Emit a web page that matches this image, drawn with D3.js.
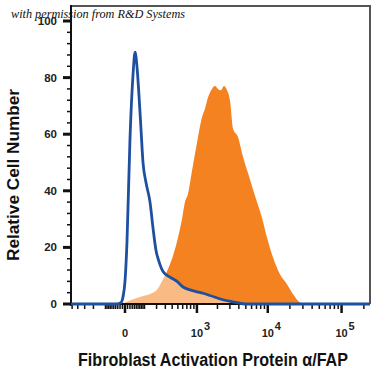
<!DOCTYPE html>
<html>
<head>
<meta charset="utf-8">
<script src="https://cdn.jsdelivr.net/npm/d3@7"></script>
<style>
    body { margin: 0; background: #fff; }
    svg { display: block; }
</style>
</head>
<body>
<svg id="chart" width="375" height="375"></svg>
<script>
/* flow histogram: FAP stained (orange) vs isotype (blue) */

// fluorescence intensity (biexponential axis) and relative cell number
const stainX = [-20, 12, 71, 141, 204, 259, 322, 397, 483, 585, 653, 729, 841, 1003, 1191, 1319, 1460, 1669,
    1843, 2035, 2245, 2477, 2731, 3008, 3314, 3890, 4566, 5705, 7116, 8330, 9750, 11770, 14660, 18250, 22010, 27380, 32000];
const stainY = [0, 1, 2.5, 3.5, 5, 8, 11.5, 16, 22, 30, 36, 39, 47, 57, 66, 69, 73, 76,
    77, 76, 75.5, 77, 75.5, 72, 62, 59, 52, 44, 36, 30.5, 23.5, 16.5, 10.5, 7, 3.5, 0.5, 0];

const isoX = [-522, -34, -16, -7.7, 0, 7.7, 20, 34, 44, 54, 65, 77, 90, 110, 141, 166, 194, 225, 271, 365,
    483, 607, 783, 1003, 1232, 1561, 2398, 3768, 4866, 242000];
const isoY = [0, 0, 0.5, 2.5, 8, 22, 58, 81, 89, 84, 74, 62, 50, 43, 36, 27, 19, 15, 11.5, 9.5,
    8, 6, 5, 4.3, 3.8, 3, 1.5, 0.5, 0, 0];

const xMajor = [0, 1e3, 1e4, 1e5];
const xMajorExp = ["", "3", "4", "5"];
const yMajor = [0, 20, 40, 60, 80, 100];

const box = {left: 71, top: 6, right: 370, bottom: 304};
const font = "Liberation Sans, Arial, sans-serif";

const svg = d3.select("#chart");

const x = d3.scaleSymlog()
    .constant(120)
    .domain([-522, 242000])
    .range([box.left, box.right]);

const y = d3.scaleLinear()
    .domain([0, 100])
    .range([box.bottom, 21]);

// minor ticks on the x axis
let xMinor = [];
[10, 100, 1000, 10000, 100000].forEach(dec => {
    for (let m = 1; m <= 9; m++) {
        const v = m * dec;
        if (xMajor.indexOf(v) < 0) {
            if (v <= 242000) xMinor.push(v);
            if (-v >= -522) xMinor.push(-v);
        }
    }
});
const yMinor = d3.range(0, 101, 4).filter(v => v % 20 !== 0);

const stain = stainX.map((v, i) => [v, stainY[i]]);
const iso = isoX.map((v, i) => [v, isoY[i]]);

const area = d3.area()
    .x(d => x(d[0]))
    .y0(y(0))
    .y1(d => y(d[1]))
    .curve(d3.curveMonotoneX);

const line = d3.line()
    .x(d => x(d[0]))
    .y(d => y(d[1]))
    .curve(d3.curveMonotoneX);

svg.append("path")
    .datum(stain)
    .attr("d", area)
    .attr("fill", "#f58220");

// isotype area lightens the orange below it
svg.append("path")
    .datum(iso)
    .attr("d", area)
    .attr("fill", "#fff")
    .attr("fill-opacity", 0.45);

// frame
svg.append("path")
    .attr("d", `M${box.left},${box.top}H${box.right}V${box.bottom}`)
    .attr("fill", "none")
    .attr("stroke", "#555")
    .attr("stroke-width", 2);

// y axis
const gy = svg.append("g");
gy.append("line")
    .attr("x1", box.left).attr("x2", box.left)
    .attr("y1", box.top - 1).attr("y2", box.bottom + 2)
    .attr("stroke", "#111").attr("stroke-width", 2);
gy.selectAll(".ymin").data(yMinor).join("line")
    .attr("x1", box.left - 4).attr("x2", box.left)
    .attr("y1", d => y(d)).attr("y2", d => y(d))
    .attr("stroke", "#111").attr("stroke-width", 1.5);
gy.selectAll(".ymaj").data(yMajor).join("line")
    .attr("x1", box.left - 8).attr("x2", box.left)
    .attr("y1", d => y(d)).attr("y2", d => y(d))
    .attr("stroke", "#111").attr("stroke-width", 3);
gy.selectAll("text").data(yMajor).join("text")
    .attr("x", 57)
    .attr("y", d => y(d) + 4)
    .attr("text-anchor", "end")
    .attr("font-family", font)
    .attr("font-weight", "bold")
    .attr("font-size", 11.5)
    .attr("fill", "#222")
    .text(d => d);

// x axis
const gx = svg.append("g");
gx.append("line")
    .attr("x1", box.left).attr("x2", box.right)
    .attr("y1", box.bottom).attr("y2", box.bottom)
    .attr("stroke", "#111").attr("stroke-width", 2);
gx.selectAll(".xmin").data(xMinor).join("line")
    .attr("x1", d => x(d)).attr("x2", d => x(d))
    .attr("y1", box.bottom).attr("y2", box.bottom + 5)
    .attr("stroke", "#111").attr("stroke-width", 1.5);
gx.selectAll(".xmaj").data(xMajor).join("line")
    .attr("x1", d => x(d)).attr("x2", d => x(d))
    .attr("y1", box.bottom).attr("y2", box.bottom + 9)
    .attr("stroke", "#111").attr("stroke-width", 2.5);

const xl = gx.selectAll(".xl").data(xMajor).join("g")
    .attr("transform", d => `translate(${x(d)},0)`);
xl.append("text")
    .attr("y", 337)
    .attr("text-anchor", "middle")
    .attr("font-family", font)
    .attr("font-weight", "bold")
    .attr("font-size", 11)
    .attr("fill", "#222")
    .text(d => d === 0 ? "0" : "10");
xl.append("text")
    .attr("x", 7)
    .attr("y", 330)
    .attr("font-family", font)
    .attr("font-weight", "bold")
    .attr("font-size", 11)
    .attr("fill", "#222")
    .text((d, i) => xMajorExp[i]);

// isotype line
svg.append("path")
    .datum(iso)
    .attr("d", line)
    .attr("fill", "none")
    .attr("stroke", "#1f4f9f")
    .attr("stroke-width", 2.8)
    .attr("stroke-linejoin", "round");

// titles
svg.append("text")
    .attr("x", 213)
    .attr("y", 366)
    .attr("text-anchor", "middle")
    .attr("font-family", font)
    .attr("font-weight", "bold")
    .attr("font-size", 17.5)
    .attr("fill", "#111")
    .attr("textLength", 270)
    .attr("lengthAdjust", "spacingAndGlyphs")
    .text("Fibroblast Activation Protein \u03B1/FAP");

svg.append("text")
    .attr("transform", "translate(19,175) rotate(-90)")
    .attr("text-anchor", "middle")
    .attr("font-family", font)
    .attr("font-weight", "bold")
    .attr("font-size", 16.5)
    .attr("fill", "#111")
    .attr("textLength", 172)
    .attr("lengthAdjust", "spacingAndGlyphs")
    .text("Relative Cell Number");

svg.append("text")
    .attr("x", 11)
    .attr("y", 18)
    .attr("font-family", "Liberation Serif, serif")
    .attr("font-style", "italic")
    .attr("font-size", 12.5)
    .attr("fill", "#111")
    .attr("textLength", 174)
    .attr("lengthAdjust", "spacingAndGlyphs")
    .text("with permission from R&D Systems");
</script>
</body>
</html>
